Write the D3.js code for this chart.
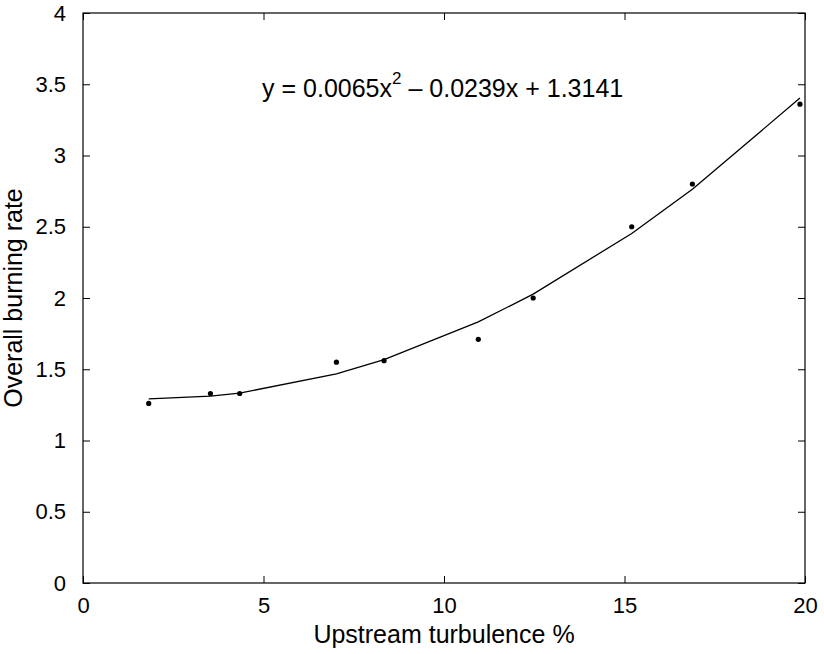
<!DOCTYPE html>
<html>
<head>
<meta charset="utf-8">
<script src="https://cdn.jsdelivr.net/npm/d3@7"></script>
<style>
  body { margin: 0; background: #fff; }
  text { font-family: "Liberation Sans", Arial, sans-serif; fill: #000; }
</style>
</head>
<body>
<div id="chart"></div>
<script>
// measured points
const turbulence = [1.82, 3.53, 4.34, 7.02, 8.34, 10.95, 12.47, 15.2, 16.88, 19.86];
const burningRate = [1.26, 1.33, 1.33, 1.55, 1.56, 1.71, 2.0, 2.5, 2.8, 3.36];
// fitted curve values read at the same x positions
const fittedRate = [1.292, 1.311, 1.333, 1.467, 1.567, 1.832, 2.027, 2.453, 2.763, 3.403];

const xTicks = [0, 5, 10, 15, 20];
const yTicks = [0, 0.5, 1, 1.5, 2, 2.5, 3, 3.5, 4];

function drawChart() {
  const width = 824;
  const height = 654;
  const margin = { top: 13, right: 19, bottom: 71, left: 83 };

  const svg = d3.select("#chart")
    .append("svg")
    .attr("width", width)
    .attr("height", height);

  const x = d3.scaleLinear()
    .domain([0, 20])
    .range([margin.left, width - margin.right]);

  const y = d3.scaleLinear()
    .domain([0, 4])
    .range([height - margin.bottom, margin.top]);

  const tickLen = 7;
  const fontSize = 22;
  const labelSize = 25;

  // Axes box with inward ticks on all sides
  svg.append("rect")
    .attr("x", x(0))
    .attr("y", y(4))
    .attr("width", x(20) - x(0))
    .attr("height", y(0) - y(4))
    .attr("fill", "none")
    .attr("stroke", "#000")
    .attr("stroke-width", 1.2);

  const bottomAxis = d3.axisBottom(x).tickValues(xTicks).tickSizeInner(-tickLen).tickSizeOuter(0).tickPadding(14);
  const gx = svg.append("g")
    .attr("transform", `translate(0,${y(0)})`)
    .call(bottomAxis);
  gx.select(".domain").remove();
  gx.selectAll("text").attr("font-size", fontSize).attr("font-family", null);

  const topAxis = d3.axisTop(x).tickValues(xTicks).tickSizeInner(-tickLen).tickSizeOuter(0).tickFormat("");
  const gxt = svg.append("g")
    .attr("transform", `translate(0,${y(4)})`)
    .call(topAxis);
  gxt.select(".domain").remove();

  const leftAxis = d3.axisLeft(y).tickValues(yTicks).tickSizeInner(-tickLen).tickSizeOuter(0).tickPadding(17)
    .tickFormat(d => d3.format("")(d));
  const gy = svg.append("g")
    .attr("transform", `translate(${x(0)},0)`)
    .call(leftAxis);
  gy.select(".domain").remove();
  gy.selectAll("text").attr("font-size", fontSize).attr("font-family", null);

  const rightAxis = d3.axisRight(y).tickValues(yTicks).tickSizeInner(-tickLen).tickSizeOuter(0).tickFormat("");
  const gyr = svg.append("g")
    .attr("transform", `translate(${x(20)},0)`)
    .call(rightAxis);
  gyr.select(".domain").remove();

  svg.selectAll(".tick line").attr("stroke", "#000").attr("stroke-width", 1);

  // Fitted curve
  const line = d3.line()
    .x((d, i) => x(turbulence[i]))
    .y(d => y(d));

  svg.append("path")
    .datum(fittedRate)
    .attr("d", line)
    .attr("fill", "none")
    .attr("stroke", "#000")
    .attr("stroke-width", 1.3);

  // Data points
  svg.selectAll("circle.pt")
    .data(turbulence)
    .join("circle")
    .attr("class", "pt")
    .attr("cx", d => x(d))
    .attr("cy", (d, i) => y(burningRate[i]))
    .attr("r", 2.6)
    .attr("fill", "#000");

  // Equation
  const eq = svg.append("text")
    .attr("x", x(4.96))
    .attr("y", y(3.41))
    .attr("font-size", labelSize);
  eq.append("tspan").text("y = 0.0065x");
  eq.append("tspan").attr("font-size", 17).attr("dy", -13).text("2");
  eq.append("tspan").attr("dy", 13).text(" \u2013 0.0239x + 1.3141");

  // Axis labels
  svg.append("text")
    .attr("x", x(10))
    .attr("y", 643)
    .attr("text-anchor", "middle")
    .attr("font-size", labelSize)
    .text("Upstream turbulence %");

  svg.append("text")
    .attr("transform", `translate(22,${(y(0) + y(4)) / 2}) rotate(-90)`)
    .attr("text-anchor", "middle")
    .attr("font-size", labelSize)
    .text("Overall burning rate");
}

drawChart();
</script>
</body>
</html>
